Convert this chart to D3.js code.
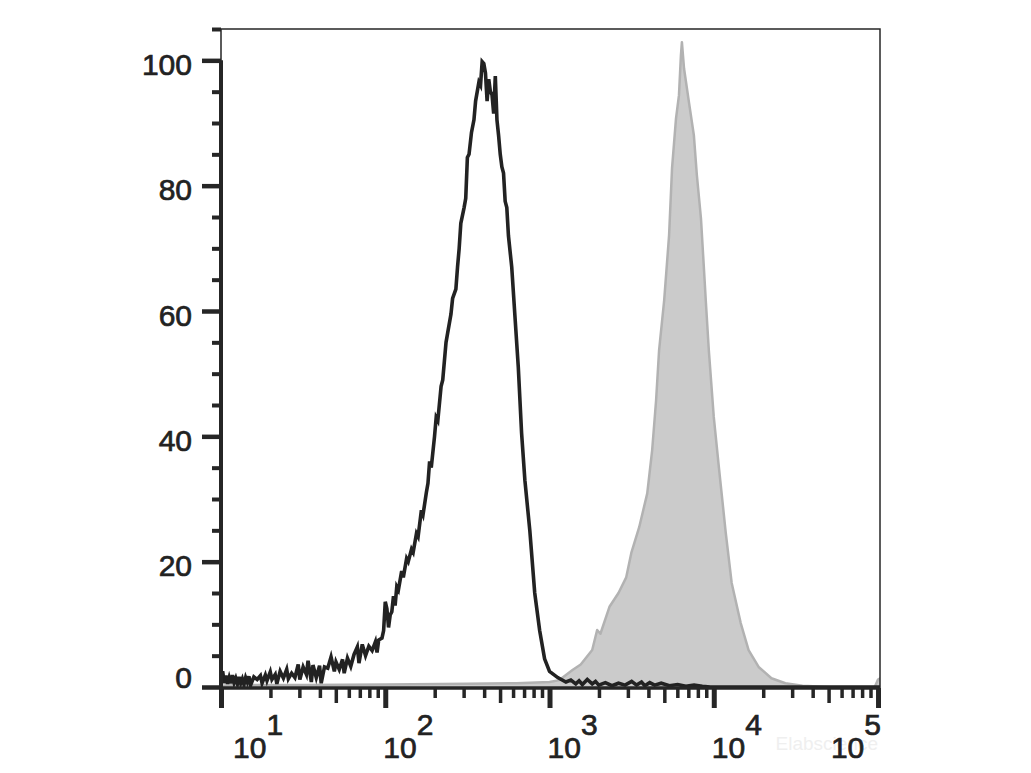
<!DOCTYPE html>
<html><head><meta charset="utf-8">
<script src="https://cdn.jsdelivr.net/npm/d3@7"></script>
<style>body{margin:0;background:#fff}svg{display:block}</style>
</head><body><svg id="c" width="1031" height="773"></svg>
<script>
// ---- data (x = log10 fluorescence intensity, y = % of max) ----
const yMajorTicks = [0, 20, 40, 60, 80, 100];
const yMinorTicks = [5, 10, 15, 25, 30, 35, 45, 50, 55, 65, 70, 75, 85, 90, 95, 105];
const xDecades = [1, 2, 3, 4, 5];
const xMinorMultipliers = [2, 3, 4, 6, 7, 8, 9];
const xMidMultipliers = [5];
const watermark = "Elabscience";

const blackSeries = [
 [1.00,0.5],[1.01,2.5],[1.02,0.6],[1.03,1.8],[1.04,0.5],[1.05,1.5],[1.06,0.6],[1.07,1.9],[1.08,0.7],[1.09,1.4],
 [1.10,0.5],[1.11,1.6],[1.12,0.6],[1.13,1.3],[1.14,0.4],[1.15,1.5],[1.16,0.8],[1.17,1.7],[1.18,0.3],[1.20,1.6],
 [1.22,1.2],[1.24,1.8],[1.25,0.6],[1.27,1.9],[1.28,1.0],[1.30,2.4],[1.31,1.2],[1.33,2.0],[1.34,0.5],[1.36,2.5],
 [1.38,1.4],[1.40,2.8],[1.41,1.3],[1.43,2.2],[1.45,1.5],[1.47,3.6],[1.48,1.2],[1.50,3.2],[1.52,2.0],[1.53,4.2],
 [1.55,0.8],[1.56,3.5],[1.58,1.5],[1.60,3.4],[1.61,0.6],[1.63,3.2],[1.65,3.0],[1.67,4.8],[1.69,2.5],[1.70,4.0],
 [1.72,2.8],[1.74,4.4],[1.75,2.2],[1.77,4.6],[1.79,3.3],[1.81,5.2],[1.83,6.4],[1.84,3.8],[1.86,6.8],[1.88,5.0],
 [1.90,6.5],[1.92,5.8],[1.94,7.2],[1.95,5.5],[1.96,7.5],[1.98,7.8],[1.99,9.0],[2.00,13.6],[2.01,12.5],[2.02,9.5],
 [2.03,11.5],[2.04,12.0],[2.05,14.5],[2.06,13.0],[2.07,16.0],[2.08,15.5],[2.10,18.5],[2.11,17.5],[2.13,20.5],[2.14,20.0],
 [2.16,22.0],[2.17,21.5],[2.19,24.5],[2.20,24.0],[2.22,28.2],[2.23,27.5],[2.25,31.0],[2.26,32.5],[2.27,36.0],[2.28,35.0],
 [2.30,40.0],[2.31,43.0],[2.32,42.5],[2.34,48.0],[2.35,49.0],[2.37,55.0],[2.38,56.5],[2.40,59.5],[2.41,62.0],[2.43,63.5],
 [2.44,67.0],[2.45,70.0],[2.46,74.0],[2.48,76.5],[2.49,78.0],[2.50,84.5],[2.51,85.0],[2.525,88.5],[2.54,90.5],[2.55,93.5],
 [2.57,96.5],[2.58,96.0],[2.59,99.8],[2.60,99.5],[2.61,98.0],[2.62,93.5],[2.63,97.0],[2.64,95.0],[2.65,94.5],[2.66,91.5],
 [2.67,97.5],[2.68,90.5],[2.69,88.0],[2.70,85.0],[2.71,83.0],[2.72,82.0],[2.73,77.5],[2.74,76.5],[2.75,72.0],[2.77,67.0],
 [2.79,59.0],[2.81,51.0],[2.83,40.5],[2.85,33.0],[2.88,25.0],[2.91,15.0],[2.94,9.0],[2.97,4.5],[3.00,2.5],[3.05,1.5],
 [3.10,0.8],[3.13,1.1],[3.16,0.5],[3.18,1.0],[3.20,0.4],[3.23,1.2],[3.26,0.5],[3.28,0.9],[3.30,0.3],[3.34,0.7],
 [3.38,0.2],[3.42,0.6],[3.46,0.3],[3.50,0.9],[3.53,0.3],[3.56,0.8],[3.58,0.2],[3.61,0.7],[3.64,0.3],[3.68,0.6],
 [3.73,0.2],[3.78,0.4],[3.83,0.1],[3.88,0.3],[3.93,0.1],[3.98,0],[5.02,0]
];

const graySeries = [
 [1.00,0.2],[1.10,0.3],[1.50,0.3],[2.00,0.4],[2.50,0.5],[2.80,0.6],[3.00,0.8],[3.06,1.1],[3.14,2.7],[3.19,3.6],
 [3.26,5.9],[3.29,9.1],[3.31,8.5],[3.365,12.8],[3.42,15.0],[3.467,17.5],[3.498,21.4],[3.546,25.5],[3.595,30.9],[3.625,37.8],
 [3.649,45.8],[3.667,53.7],[3.698,61.7],[3.728,72.1],[3.746,82.8],[3.770,90.7],[3.788,94.4],[3.800,100.8],[3.806,102.9],[3.819,98.7],
 [3.849,93.3],[3.879,88.0],[3.897,81.7],[3.922,74.8],[3.940,66.8],[3.952,61.4],[3.970,53.7],[4.000,43.1],[4.031,35.1],[4.073,24.6],
 [4.109,16.6],[4.164,10.2],[4.212,5.9],[4.273,3.2],[4.351,1.4],[4.436,0.6],[4.54,0.2],[4.70,0],[4.98,0],[5.00,1.2],[5.02,1.5]
];

// ---- layout ----
const L = 221, R = 880, T = 29, B = 687;
const ink = "#262626";
const fontFam = "'Liberation Sans', Arial, sans-serif";

const x = d3.scaleLog().domain([10, Math.pow(10, 5.012)]).range([L, R]);
const y = d3.scaleLinear().domain([0, 105]).range([B, T]);

const svg = d3.select("#c");
svg.append("rect").attr("width", 1031).attr("height", 773).attr("fill", "#fff");

svg.append("defs").append("clipPath").attr("id", "plot")
  .append("rect").attr("x", L).attr("y", T).attr("width", R - L).attr("height", B - T + 2);

const px = d => x(Math.pow(10, d[0]));
const base = y(0) + 1;

// faint watermark (behind everything)
svg.append("text").attr("x", R - 2).attr("y", 750).attr("text-anchor", "end")
  .attr("font-family", fontFam).attr("font-size", 19).attr("fill", "#efefef").text(watermark);

const data = svg.append("g").attr("clip-path", "url(#plot)");
data.append("path").datum(graySeries)
  .attr("d", d3.area().x(px).y0(base).y1(d => y(d[1])))
  .attr("fill", "#cbcbcb");
data.append("path").datum(graySeries)
  .attr("d", d3.line().x(px).y(d => y(d[1])))
  .attr("fill", "none").attr("stroke", "#b2b2b2").attr("stroke-width", 2.5).attr("stroke-linejoin", "round");
data.append("path").datum(blackSeries)
  .attr("d", d3.line().x(px).y(d => y(d[1])))
  .attr("fill", "none").attr("stroke", "#222").attr("stroke-width", 3.6).attr("stroke-linejoin", "miter");

// frame (thin)
svg.append("rect").attr("x", L).attr("y", T).attr("width", R - L).attr("height", base - T)
  .attr("fill", "none").attr("stroke", ink).attr("stroke-width", 1.5);

// ---- Y axis ----
const yMajor = svg.append("g").attr("transform", `translate(${L},0)`)
  .call(d3.axisLeft(y).tickValues(yMajorTicks).tickSize(19).tickPadding(10).tickFormat(d3.format("d")));
yMajor.select(".domain").remove();
yMajor.selectAll("line").attr("stroke", ink).attr("stroke-width", 4.5);
yMajor.selectAll("text")
  .attr("font-family", fontFam).attr("font-size", 30).attr("fill", "#222")
  .attr("stroke", "#222").attr("stroke-width", 0.7)
  .attr("dy", null)
  .attr("y", d => Math.min(14, base - 1 - y(d)));

const yMinor = svg.append("g").attr("transform", `translate(${L},0)`)
  .call(d3.axisLeft(y).tickValues(yMinorTicks).tickSize(9).tickFormat(""));
yMinor.select(".domain").remove();
yMinor.selectAll("line").attr("stroke", ink).attr("stroke-width", 4);

svg.append("line").attr("x1", L).attr("x2", L).attr("y1", y(100)).attr("y2", base + 1)
  .attr("stroke", ink).attr("stroke-width", 4);

// ---- X axis ----
const majorVals = xDecades.map(k => Math.pow(10, k));
const minorVals = [], midVals = [];
xDecades.slice(0, -1).forEach(k => {
  xMinorMultipliers.forEach(m => minorVals.push(m * Math.pow(10, k)));
  xMidMultipliers.forEach(m => midVals.push(m * Math.pow(10, k)));
});

function xTicks(vals, size, w) {
  const gx = svg.append("g").attr("transform", `translate(0,${base})`)
    .call(d3.axisBottom(x).tickValues(vals).tickSize(size).tickFormat(""));
  gx.select(".domain").remove();
  gx.selectAll("line").attr("stroke", ink).attr("stroke-width", w);
}
xTicks(minorVals, 10, 3.5);
xTicks(midVals, 15, 3.5);
xTicks(majorVals, 20, 5);

svg.append("line").attr("x1", x(10)).attr("x2", x(1e5)).attr("y1", base).attr("y2", base)
  .attr("stroke", ink).attr("stroke-width", 3.5);

// decade labels 10^k
const labels = svg.append("g");
xDecades.forEach(k => {
  const t = labels.append("text")
    .attr("font-family", fontFam).attr("font-size", 30).attr("fill", "#222")
    .attr("stroke", "#222").attr("stroke-width", 0.7)
    .attr("y", 758);
  t.append("tspan").text("10");
  t.append("tspan").attr("dy", -23).text(String(k));
  const w = t.node().getComputedTextLength();
  const xx = Math.max(L + 12, Math.min(x(Math.pow(10, k)) - 2, R + 1 - w));
  t.attr("x", xx);
});
</script></body></html>
